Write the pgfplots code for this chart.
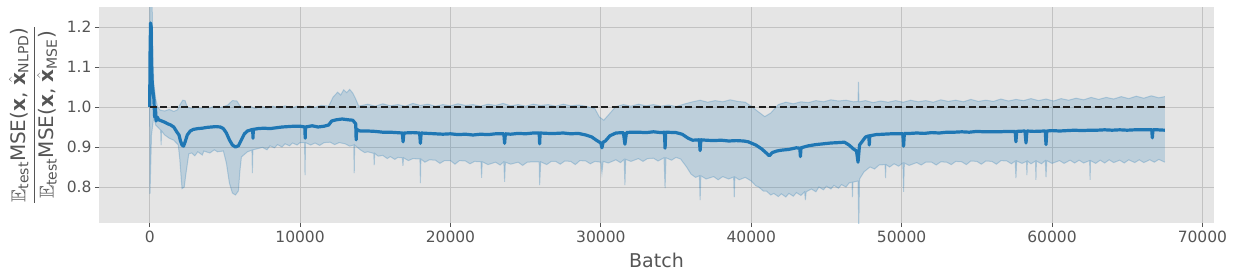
\documentclass[border=0pt]{standalone}
\usepackage{amsmath,amssymb}
\usepackage{fontspec}
\setmainfont{DejaVu Sans}
\usepackage{pgfplots}
\usepackage{pgfplotstable}
\pgfplotsset{compat=1.18}
\usepgfplotslibrary{fillbetween}
\definecolor{c0}{HTML}{1F77B4}
\definecolor{bg}{HTML}{E5E5E5}
\definecolor{gridc}{HTML}{C2C2C2}
\definecolor{tickc}{HTML}{555555}

\pgfplotstableread{
x y
0 1.000
30 1.15
60 1.21
100 1.20
130 1.10
170 1.06
220 1.04
280 1.02
330 0.975
380 1.00
430 0.965
500 0.975
600 0.968
800 0.965
1000 0.962
1200 0.958
1400 0.955
1600 0.950
1800 0.938
1950 0.930
2050 0.915
2150 0.905
2250 0.902
2350 0.912
2500 0.930
2700 0.940
2900 0.944
3200 0.946
3500 0.947
3800 0.949
4100 0.950
4400 0.951
4700 0.950
4900 0.946
5100 0.935
5300 0.918
5500 0.905
5700 0.900
5900 0.903
6100 0.918
6300 0.933
6500 0.940
6850 0.944
6870 0.922
6890 0.944
7200 0.946
7600 0.947
8000 0.946
8400 0.948
8800 0.950
9200 0.951
9600 0.952
10000 0.952
10320 0.950
10340 0.922
10360 0.950
10800 0.953
11200 0.950
11600 0.952
11900 0.955
12100 0.965
12400 0.968
12800 0.970
13200 0.968
13500 0.967
13700 0.958
13730 0.918
13760 0.945
13850 0.942
14000 0.940
14500 0.940
15000 0.939
15500 0.937
16000 0.937
16800 0.935
16850 0.913
16900 0.935
17500 0.936
17950 0.935
18000 0.909
18050 0.935
18500 0.934
19000 0.933
19500 0.932
20000 0.933
20500 0.931
21000 0.932
21500 0.930
22000 0.932
22500 0.931
23000 0.933
23550 0.933
23600 0.909
23650 0.933
24000 0.932
24500 0.934
25000 0.933
25500 0.935
25900 0.935
25930 0.908
25960 0.935
26500 0.934
27000 0.934
27500 0.935
28000 0.933
28500 0.934
29000 0.930
29400 0.925
29700 0.917
30000 0.910
30070 0.898
30150 0.912
30300 0.915
30600 0.928
31000 0.935
31500 0.936
31600 0.907
31700 0.936
32000 0.937
32500 0.937
33000 0.936
33500 0.938
34000 0.936
34230 0.937
34270 0.897
34310 0.937
35000 0.936
35400 0.932
35800 0.922
36100 0.917
36550 0.918
36600 0.891
36650 0.918
37000 0.917
37500 0.916
38000 0.917
38500 0.915
39000 0.916
39500 0.915
39800 0.913
40300 0.905
40700 0.895
41000 0.885
41200 0.878
41400 0.886
41700 0.890
42000 0.892
42500 0.894
43000 0.898
43230 0.897
43270 0.876
43310 0.898
43800 0.903
44300 0.906
44800 0.908
45300 0.910
45800 0.911
46200 0.912
46500 0.905
46800 0.895
47000 0.890
47100 0.862
47200 0.905
47600 0.925
47820 0.928
47850 0.905
47880 0.928
48300 0.931
48800 0.932
49300 0.933
49800 0.933
50080 0.933
50130 0.902
50180 0.934
50600 0.934
51000 0.935
51500 0.934
52000 0.936
52500 0.935
53000 0.937
53500 0.937
54000 0.938
54500 0.937
55000 0.939
55500 0.938
56000 0.938
56500 0.938
57000 0.939
57550 0.939
57600 0.913
57650 0.939
58200 0.940
58270 0.910
58330 0.940
58800 0.939
59550 0.940
59600 0.906
59650 0.940
60000 0.941
60500 0.940
61000 0.941
61500 0.942
62000 0.941
62500 0.942
63000 0.942
63500 0.943
64000 0.942
64500 0.943
65000 0.942
65500 0.943
66000 0.943
66630 0.943
66670 0.923
66710 0.943
67000 0.943
67500 0.942
}\meandata

\pgfplotstableread{
x y
0 1.00
20 1.30
150 1.30
200 1.15
270 1.06
400 1.02
530 1.00
700 0.992
1000 0.990
1300 0.994
1600 0.989
1850 0.993
2000 1.005
2200 1.017
2350 1.016
2500 1.000
2800 0.996
3100 1.001
3400 0.996
3700 1.001
4000 0.997
4300 1.002
4600 0.998
4900 1.001
5200 1.005
5500 1.016
5800 1.015
6000 1.003
6300 0.998
6700 1.002
7000 0.996
7400 1.002
7800 0.997
8200 1.002
8600 0.997
9000 1.003
9400 0.997
9800 1.002
10200 0.998
10600 1.003
11000 0.999
11400 1.004
11900 1.002
12200 1.025
12500 1.037
12700 1.030
12900 1.043
13100 1.036
13300 1.044
13500 1.035
13700 1.020
13900 1.002
14000 1.003
14500 1.007
15000 1.002
15500 1.008
16000 1.003
16500 1.006
17000 1.002
17500 1.009
18000 1.004
18500 1.007
19000 1.002
19500 1.006
20000 1.003
20500 1.008
21000 1.004
21500 1.006
22000 1.002
22500 1.007
23000 1.004
23500 1.009
24000 1.003
24500 1.006
25000 1.002
25500 1.007
26000 1.004
26500 1.006
27000 1.002
27500 1.007
28000 1.003
28500 1.005
29000 1.002
29600 0.996
29900 0.975
30200 0.967
30500 0.980
30900 0.997
31000 1.001
31500 1.006
32000 1.002
32500 1.007
33000 1.003
33500 1.006
34000 1.002
34500 1.005
35000 1.001
35600 1.008
36100 1.013
36600 1.017
37100 1.012
37600 1.016
38100 1.013
38600 1.018
39100 1.014
39600 1.012
40000 1.002
40400 0.990
40900 0.976
41300 0.985
41800 1.006
42300 1.012
42800 1.008
43300 1.013
43800 1.011
44300 1.016
44800 1.013
45300 1.018
45800 1.015
46300 1.017
46800 1.013
47100 1.014
47130 1.063
47160 1.013
47600 1.016
48100 1.011
48600 1.015
49100 1.012
49600 1.016
50100 1.012
50600 1.017
51100 1.013
51600 1.016
52100 1.012
52600 1.018
53100 1.014
53600 1.017
54100 1.013
54600 1.019
55100 1.014
55600 1.017
56100 1.014
56600 1.020
57100 1.015
57600 1.019
58100 1.016
58600 1.021
59100 1.016
59600 1.020
60100 1.015
60600 1.021
61100 1.017
61600 1.022
62100 1.018
62600 1.024
63100 1.019
63600 1.024
64100 1.020
64600 1.026
65100 1.021
65600 1.027
66100 1.022
66600 1.028
67100 1.023
67500 1.026
}\upperdata

\pgfplotstableread{
x y
0 1.00
20 0.783
60 0.84
120 0.93
270 0.975
400 0.955
730 0.942
760 0.905
790 0.940
1000 0.930
1300 0.922
1600 0.917
1900 0.905
2000 0.87
2100 0.82
2150 0.796
2300 0.80
2400 0.83
2600 0.883
2800 0.885
3000 0.878
3200 0.888
3500 0.880
3600 0.890
4000 0.885
4300 0.893
4500 0.888
4900 0.890
5100 0.86
5300 0.81
5500 0.785
5700 0.780
5900 0.79
6000 0.84
6100 0.875
6500 0.888
6800 0.892
6830 0.835
6860 0.893
7200 0.896
7500 0.899
7800 0.893
8000 0.903
8300 0.898
8500 0.906
8800 0.900
9000 0.908
9300 0.903
9500 0.910
9800 0.905
10000 0.911
10300 0.911
10330 0.830
10360 0.911
10700 0.905
11000 0.910
11300 0.904
11600 0.911
12000 0.912
12300 0.906
12600 0.911
13000 0.908
13300 0.902
13570 0.905
13600 0.835
13630 0.905
14000 0.893
14300 0.886
14500 0.888
14900 0.884
14930 0.855
14960 0.884
15200 0.877
15500 0.879
15800 0.871
16000 0.876
16300 0.869
16500 0.874
16800 0.873
16840 0.853
16880 0.873
17200 0.866
17500 0.871
17970 0.870
18000 0.810
18030 0.870
18300 0.862
18600 0.868
19000 0.867
19300 0.859
19600 0.866
20000 0.866
20300 0.857
20600 0.866
21000 0.865
21300 0.858
21600 0.864
22030 0.863
22070 0.823
22110 0.863
22500 0.856
23000 0.862
23300 0.855
23550 0.863
23600 0.813
23650 0.862
24000 0.857
24500 0.862
24800 0.854
25100 0.862
25500 0.863
25900 0.863
25930 0.805
26000 0.863
26400 0.856
26700 0.864
27000 0.864
27300 0.857
27600 0.865
28000 0.864
28300 0.856
28600 0.866
29000 0.865
29300 0.858
29600 0.864
30000 0.862
30070 0.835
30150 0.864
30500 0.860
31000 0.868
31300 0.861
31550 0.869
31600 0.805
31650 0.869
32000 0.864
32500 0.871
32800 0.864
33100 0.871
33500 0.872
33800 0.865
34200 0.873
34270 0.797
34330 0.873
34700 0.867
35000 0.874
35300 0.870
35700 0.850
36000 0.832
36300 0.824
36550 0.828
36600 0.767
36650 0.828
37000 0.820
37500 0.826
37800 0.818
38100 0.826
38500 0.820
38830 0.825
38870 0.775
38910 0.825
39200 0.818
39600 0.824
40000 0.815
40300 0.803
40500 0.800
40800 0.790
41000 0.790
41300 0.780
41500 0.784
41800 0.776
42000 0.783
42300 0.775
42500 0.784
42800 0.777
43000 0.786
43300 0.779
43550 0.788
43600 0.767
43650 0.788
44000 0.795
44300 0.788
44500 0.800
44800 0.793
45000 0.802
45300 0.795
45500 0.804
45800 0.797
46000 0.806
46300 0.800
46500 0.810
46700 0.812
46730 0.775
46760 0.812
47100 0.815
47150 0.700
47200 0.820
47500 0.838
47900 0.850
48200 0.845
48500 0.855
48900 0.856
48930 0.822
48960 0.856
49200 0.850
49500 0.858
49800 0.852
50080 0.860
50130 0.788
50180 0.860
50500 0.854
51000 0.861
51300 0.855
51600 0.862
52000 0.862
52300 0.855
52600 0.863
53000 0.862
53300 0.856
53600 0.864
54000 0.863
54300 0.856
54600 0.865
55000 0.864
55300 0.857
55600 0.865
56000 0.864
56300 0.857
56600 0.866
57000 0.865
57300 0.858
57550 0.865
57600 0.822
57650 0.865
58000 0.859
58300 0.864
58330 0.830
58360 0.865
58600 0.858
58900 0.865
58930 0.818
58960 0.865
59300 0.858
59550 0.866
59600 0.825
59650 0.866
60000 0.859
60500 0.866
60800 0.859
61200 0.867
61500 0.860
61800 0.867
62100 0.860
62500 0.866
62530 0.818
62560 0.866
62900 0.859
63200 0.867
63500 0.860
63800 0.868
64100 0.861
64500 0.867
64800 0.860
65100 0.868
65500 0.861
65800 0.868
66100 0.861
66500 0.868
66800 0.862
67100 0.869
67500 0.862
}\lowerdata

\begin{document}
\begin{tikzpicture}
\begin{axis}[
  at={(0,0)}, anchor=south west,
  width=1115pt, height=216pt, scale only axis,
  xmin=-3370, xmax=70770, ymin=0.71, ymax=1.25,
  axis background/.style={fill=bg},
  axis line style={draw=none},
  grid=major, grid style={gridc, line width=1pt},
  xtick={0,10000,20000,30000,40000,50000,60000,70000},
  ytick={0.8,0.9,1.0,1.1,1.2},
  xtick pos=bottom, ytick pos=left,
  tick align=outside, major tick length=4pt,
  tick style={tickc, line width=0.8pt},
  scaled x ticks=false, scaled y ticks=false,
  /pgf/number format/assume math mode=true,
  xticklabel style={/pgf/number format/1000 sep={}},
  yticklabel style={/pgf/number format/.cd, fixed, fixed zerofill, precision=1},
  tick label style={font=\fontsize{15.5}{18}\selectfont, text=tickc},
  xlabel={Batch},
  xlabel style={at={(axis description cs:0.5,-0.171)}, anchor=center, font=\fontsize{19}{22}\selectfont, text=tickc},
  ylabel={$\dfrac{\mathbb{E}_{\text{test}}\text{MSE(}\textbf{x}\text{, }\hat{\textbf{x}}_{\text{NLPD}}\text{)}}{\mathbb{E}_{\text{test}}\text{MSE(}\textbf{x}\text{, }\hat{\textbf{x}}_{\text{MSE}}\text{)}}$},
  ylabel style={at={(axis description cs:-0.0592,0.5)}, anchor=center, font=\fontsize{20}{24}\selectfont, text=tickc},
]
\addplot[name path=U, c0, draw opacity=0.25, line width=1pt] table {\upperdata};
\addplot[name path=L, c0, draw opacity=0.25, line width=1pt] table {\lowerdata};
\addplot[fill=c0, fill opacity=0.2, draw=none] fill between[of=U and L];
\addplot[c0, line width=3.2pt, line join=round] table {\meandata};
\addplot[black!88, line width=2pt, dash pattern=on 7pt off 3.5pt] coordinates {(0,1) (67500,1)};
\end{axis}
\pgfresetboundingbox
\path[use as bounding box] (-99pt,-53pt) rectangle (1135pt,223pt);
\end{tikzpicture}
\end{document}
